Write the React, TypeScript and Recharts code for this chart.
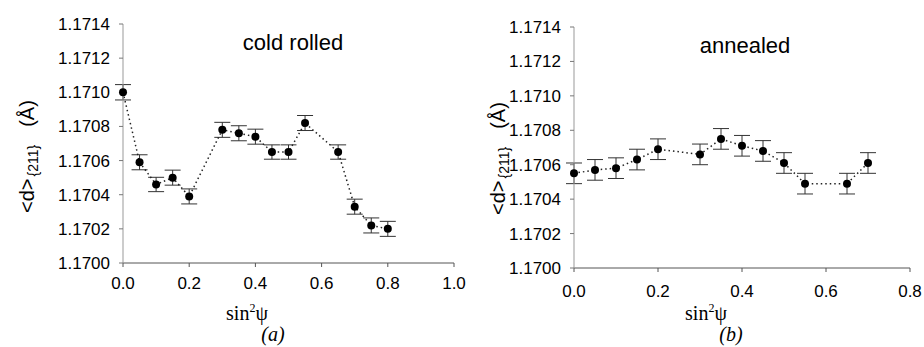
import React from 'react';
import { ComposedChart, Line, XAxis, YAxis, ErrorBar, Label } from 'recharts';

// sin^2(psi) positions and <d>{211} values
const psiCold = [0, 0.05, 0.1, 0.15, 0.2, 0.3, 0.35, 0.4, 0.45, 0.5, 0.55, 0.65, 0.7, 0.75, 0.8];
const dCold = [1.171, 1.17059, 1.17046, 1.1705, 1.17039, 1.17078, 1.17076, 1.17074, 1.17065, 1.17065, 1.17082, 1.17065, 1.17033, 1.17022, 1.1702];
const errCold = [0.000045, 0.000044, 0.000042, 0.000044, 0.000044, 0.000044, 0.000044, 0.000044, 0.000042, 0.000042, 0.000044, 0.000042, 0.000044, 0.000044, 0.000044];

const psiAnnealed = [0, 0.05, 0.1, 0.15, 0.2, 0.3, 0.35, 0.4, 0.45, 0.5, 0.55, 0.65, 0.7];
const dAnnealed = [1.17055, 1.17057, 1.17058, 1.17063, 1.17069, 1.17066, 1.17075, 1.17071, 1.17068, 1.17061, 1.17049, 1.17049, 1.17061];
const errAnnealed = [0.00006, 0.00006, 0.00006, 0.00006, 0.00006, 0.00006, 0.00006, 0.00006, 0.00006, 0.00006, 0.00006, 0.00006, 0.00006];

const yTicks = [1.17, 1.1702, 1.1704, 1.1706, 1.1708, 1.171, 1.1712, 1.1714];
const xTicksCold = [0, 0.2, 0.4, 0.6, 0.8, 1.0];
const xTicksAnnealed = [0, 0.2, 0.4, 0.6, 0.8];

const sans = '"Liberation Sans", Arial, sans-serif';
const serif = '"Liberation Serif", "Times New Roman", serif';
const tickStyle = { fontFamily: sans, fontSize: 17, fill: '#000' };

const makeRows = (xs: number[], ys: number[], es: number[]) =>
  xs.map((x, i) => ({ x, d: ys[i], err: es[i] }));

interface PanelProps {
  rows: { x: number; d: number; err: number }[];
  xTicks: number[];
  xMax: number;
  width: number;
  yAxisWidth: number;
  marginRight: number;
  marginTop: number;
  xAxisHeight: number;
  xTickMargin: number;
  title: string;
  titleX: number;
  titleY: number;
  yLabelX: number;
  yLabelY: number;
  xLabelX: number;
  tag: string;
  tagX: number;
}

function Panel(p: PanelProps) {
  const annotations = () => (
    <g>
      <text x={p.titleX} y={p.titleY} textAnchor="middle" fontFamily={sans} fontSize={22} fill="#000">
        {p.title}
      </text>
      <text
        x={p.yLabelX}
        y={p.yLabelY}
        transform={`rotate(-90, ${p.yLabelX}, ${p.yLabelY})`}
        fontFamily={sans}
        fontSize={20}
        fill="#000"
      >
        {'<d>'}
        <tspan fontSize={14} dy={4} dx={2}>{'{211}'}</tspan>
        <tspan dy={-4} dx={18}>(Å)</tspan>
      </text>
      <text x={p.xLabelX} y={320} textAnchor="middle" fontFamily={serif} fontSize={20} fill="#000">
        sin
        <tspan fontSize={12} dy={-8}>2</tspan>
        <tspan dy={8}>ψ</tspan>
      </text>
      <text x={p.tagX} y={341} textAnchor="middle" fontFamily={serif} fontStyle="italic" fontSize={20} fill="#000">
        ({p.tag})
      </text>
    </g>
  );

  return (
    <ComposedChart
      width={p.width}
      height={347}
      data={p.rows}
      margin={{ top: p.marginTop, right: p.marginRight, bottom: 0, left: 0 }}
    >
      <XAxis
        dataKey="x"
        type="number"
        domain={[0, p.xMax]}
        ticks={p.xTicks}
        tickFormatter={(v: number) => v.toFixed(1)}
        height={p.xAxisHeight}
        tick={tickStyle}
        tickSize={4}
        tickMargin={p.xTickMargin}
        axisLine={{ stroke: '#555' }}
        tickLine={{ stroke: '#555' }}
        interval={0}
      >
        <Label content={annotations} />
      </XAxis>
      <XAxis
        xAxisId="top"
        orientation="top"
        dataKey="x"
        type="number"
        domain={[0, p.xMax]}
        height={0}
        tick={false}
        tickLine={false}
        axisLine={{ stroke: '#555' }}
      />
      <YAxis
        type="number"
        domain={[1.17, 1.1714]}
        ticks={yTicks}
        tickFormatter={(v: number) => v.toFixed(4)}
        width={p.yAxisWidth}
        tick={tickStyle}
        tickSize={4}
        tickMargin={9}
        axisLine={{ stroke: '#999' }}
        tickLine={{ stroke: '#777' }}
        interval={0}
        allowDataOverflow
      />
      <YAxis
        yAxisId="right"
        orientation="right"
        type="number"
        domain={[1.17, 1.1714]}
        width={0}
        tick={false}
        tickLine={false}
        axisLine={{ stroke: '#777' }}
      />
      <Line
        dataKey="d"
        type="linear"
        stroke="#222"
        strokeWidth={1.5}
        strokeDasharray="1.5 3"
        dot={{ r: 4, fill: '#000', stroke: '#000', strokeWidth: 0 }}
        activeDot={false}
        isAnimationActive={false}
      >
        <ErrorBar dataKey="err" width={8} stroke="#333" strokeWidth={1} direction="y" />
      </Line>
    </ComposedChart>
  );
}

export default function App() {
  return (
    <div style={{ position: 'absolute', left: 0, top: 0, width: 924, height: 347, background: '#fff' }}>
      <div style={{ position: 'absolute', left: 0, top: 0 }}>
        <Panel
          rows={makeRows(psiCold, dCold, errCold)}
          xTicks={xTicksCold}
          xMax={1}
          width={476}
          yAxisWidth={123}
          marginRight={22}
          marginTop={24}
          xAxisHeight={84}
          xTickMargin={10}
          title="cold rolled"
          titleX={293}
          titleY={50}
          yLabelX={34}
          yLabelY={213}
          xLabelX={247}
          tag="a"
          tagX={273}
        />
      </div>
      <div style={{ position: 'absolute', left: 460, top: 0 }}>
        <Panel
          rows={makeRows(psiAnnealed, dAnnealed, errAnnealed)}
          xTicks={xTicksAnnealed}
          xMax={0.8}
          width={464}
          yAxisWidth={114}
          marginRight={14}
          marginTop={27}
          xAxisHeight={79}
          xTickMargin={13}
          title="annealed"
          titleX={285}
          titleY={53}
          yLabelX={45}
          yLabelY={215}
          xLabelX={246}
          tag="b"
          tagX={271}
        />
      </div>
    </div>
  );
}
